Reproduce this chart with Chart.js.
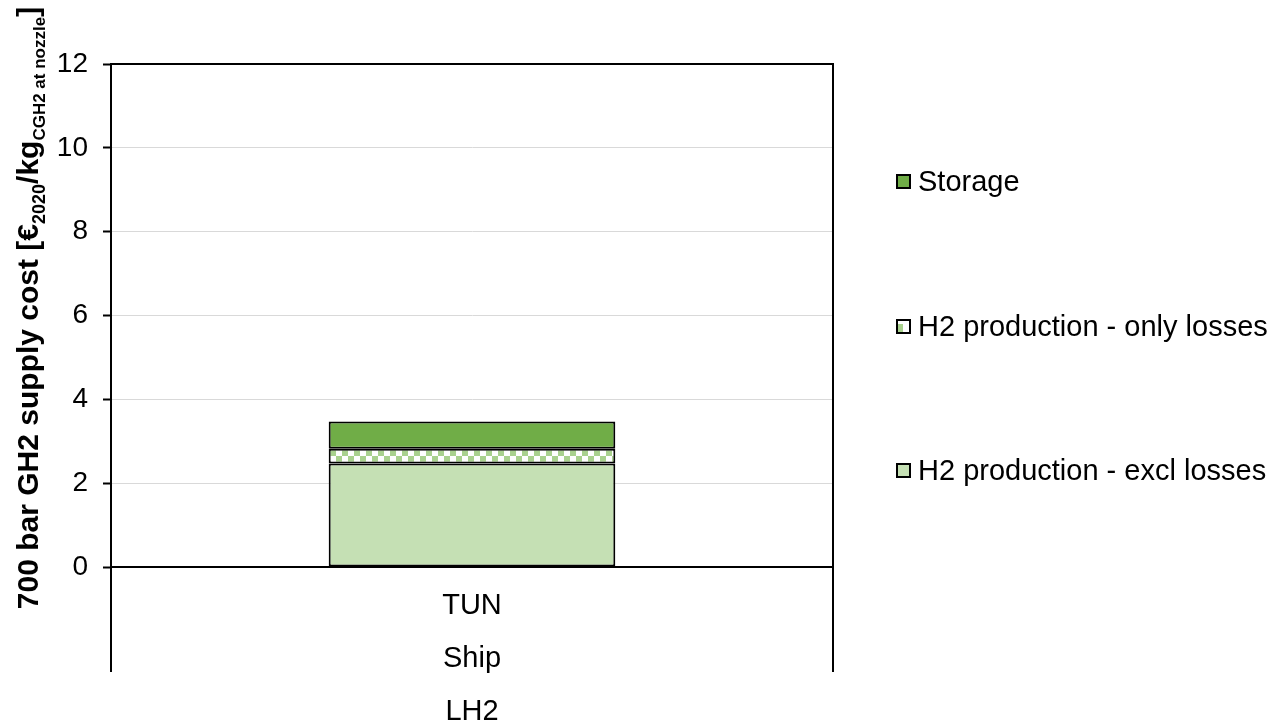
<!DOCTYPE html>
<html>
<head>
<meta charset="utf-8">
<script src="https://cdn.jsdelivr.net/npm/chart.js@4.4.1/dist/chart.umd.min.js"></script>
<style>
  html, body { margin: 0; padding: 0; background: #fff; }
  #wrap { width: 1275px; height: 723px; position: relative; }
</style>
</head>
<body>
<div id="wrap"><canvas id="cost-chart"></canvas></div>
<script>
// Supply cost breakdown, one route (country / carrier / form)
const categories = [['TUN', 'Ship', 'LH2']];
const productionExcl = [2.47];
const productionLosses = [0.35];
const storage = [0.65];
const yTicks = [0, 2, 4, 6, 8, 10, 12];

const FONT = '"Liberation Sans", Arial, sans-serif';

// checkerboard fill for the losses segment
function makeChecker() {
    const c = document.createElement('canvas');
    c.width = 12; c.height = 12;
    const g = c.getContext('2d');
    g.fillStyle = '#ffffff';
    g.fillRect(0, 0, 12, 12);
    g.fillStyle = '#a9d18e';
    g.fillRect(0, 0, 6, 6);
    g.fillRect(6, 6, 6, 6);
    return g.createPattern(c, 'repeat');
}
const checker = makeChecker();

const legendItems = [
    { label: 'Storage', fill: '#70ad47', y: 182 },
    { label: 'H2 production - only losses', fill: 'checker', y: 327 },
    { label: 'H2 production - excl losses', fill: '#c5e0b4', y: 471 }
];

// frame lines, y title with subscripts and the legend
const decorPlugin = {
    id: 'decor',
    afterDraw(chart) {
        const ctx = chart.ctx;
        const a = chart.chartArea;
        ctx.save();
        ctx.strokeStyle = '#000';
        ctx.lineWidth = 2;
        ctx.beginPath();
        ctx.moveTo(a.left, 672);
        ctx.lineTo(a.left, a.top);
        ctx.lineTo(a.right, a.top);
        ctx.lineTo(a.right, 672);
        ctx.stroke();

        // y axis title
        const parts = [
            { t: '700 bar GH2 supply cost [€', size: 30, dy: 0 },
            { t: '2020', size: 18, dy: 7 },
            { t: '/kg', size: 30, dy: 0 },
            { t: 'CGH2 at nozzle', size: 17, dy: 7 },
            { t: ']', size: 30, dy: 0 }
        ];
        let total = 0;
        parts.forEach(p => {
            ctx.font = 'bold ' + p.size + 'px ' + FONT;
            p.w = ctx.measureText(p.t).width;
            total += p.w;
        });
        ctx.translate(38, 308);
        ctx.rotate(-Math.PI / 2);
        ctx.fillStyle = '#000';
        ctx.textBaseline = 'alphabetic';
        ctx.textAlign = 'left';
        let x = -total / 2;
        parts.forEach(p => {
            ctx.font = 'bold ' + p.size + 'px ' + FONT;
            ctx.fillText(p.t, x, p.dy);
            x += p.w;
        });
        ctx.restore();

        // legend
        ctx.save();
        legendItems.forEach(it => {
            ctx.fillStyle = it.fill === 'checker' ? '#ffffff' : it.fill;
            ctx.fillRect(897, it.y - 7, 13, 13);
            if (it.fill === 'checker') {
                ctx.fillStyle = '#a9d18e';
                ctx.fillRect(897, it.y - 3, 6, 9);
            }
            ctx.strokeStyle = '#000';
            ctx.lineWidth = 2;
            ctx.strokeRect(897, it.y - 7, 13, 13);
            ctx.fillStyle = '#000';
            ctx.font = '29px ' + FONT;
            ctx.textBaseline = 'middle';
            ctx.textAlign = 'left';
            ctx.fillText(it.label, 918, it.y + 1);
        });
        ctx.restore();
    }
};

const ctx = document.getElementById('cost-chart').getContext('2d');
const costChart = new Chart(ctx, {
    type: 'bar',
    data: {
        labels: categories,
        datasets: [{
            label: 'H2 production - excl losses',
            data: productionExcl,
            backgroundColor: '#c5e0b4',
            borderColor: '#000',
            borderWidth: 2,
            borderSkipped: false
        }, {
            label: 'H2 production - only losses',
            data: productionLosses,
            backgroundColor: checker,
            borderColor: '#000',
            borderWidth: 2,
            borderSkipped: false
        }, {
            label: 'Storage',
            data: storage,
            backgroundColor: '#70ad47',
            borderColor: '#000',
            borderWidth: 2,
            borderSkipped: false
        }]
    },
    options: {
        responsive: true,
        maintainAspectRatio: false,
        animation: false,
        layout: { padding: { left: 0, right: 442, top: 64, bottom: 0 } },
        datasets: { bar: { barPercentage: 1, categoryPercentage: 0.397 } },
        plugins: {
            legend: { display: false },
            tooltip: { enabled: false }
        },
        scales: {
            x: {
                stacked: true,
                grid: { display: false },
                border: { display: true, color: '#000', width: 2 },
                ticks: {
                    color: '#000',
                    font: { family: FONT, size: 29, lineHeight: 1.83 },
                    padding: 4
                },
                afterFit: (scale) => { scale.height = 156; }
            },
            y: {
                stacked: true,
                min: 0,
                max: 12,
                afterBuildTicks: (scale) => { scale.ticks = yTicks.map(v => ({ value: v })); },
                grid: {
                    color: (c) => (c.tick && (c.tick.value === 0 || c.tick.value === 12)) ? 'rgba(0,0,0,0)' : '#d9d9d9',
                    lineWidth: 1,
                    tickColor: '#000',
                    tickWidth: 2,
                    tickLength: 8
                },
                border: { display: true, color: '#000', width: 2 },
                ticks: {
                    color: '#000',
                    font: { family: FONT, size: 28 },
                    padding: 15
                },
                afterFit: (scale) => { scale.width = 111; }
            }
        }
    },
    plugins: [decorPlugin]
});
</script>
</body>
</html>
